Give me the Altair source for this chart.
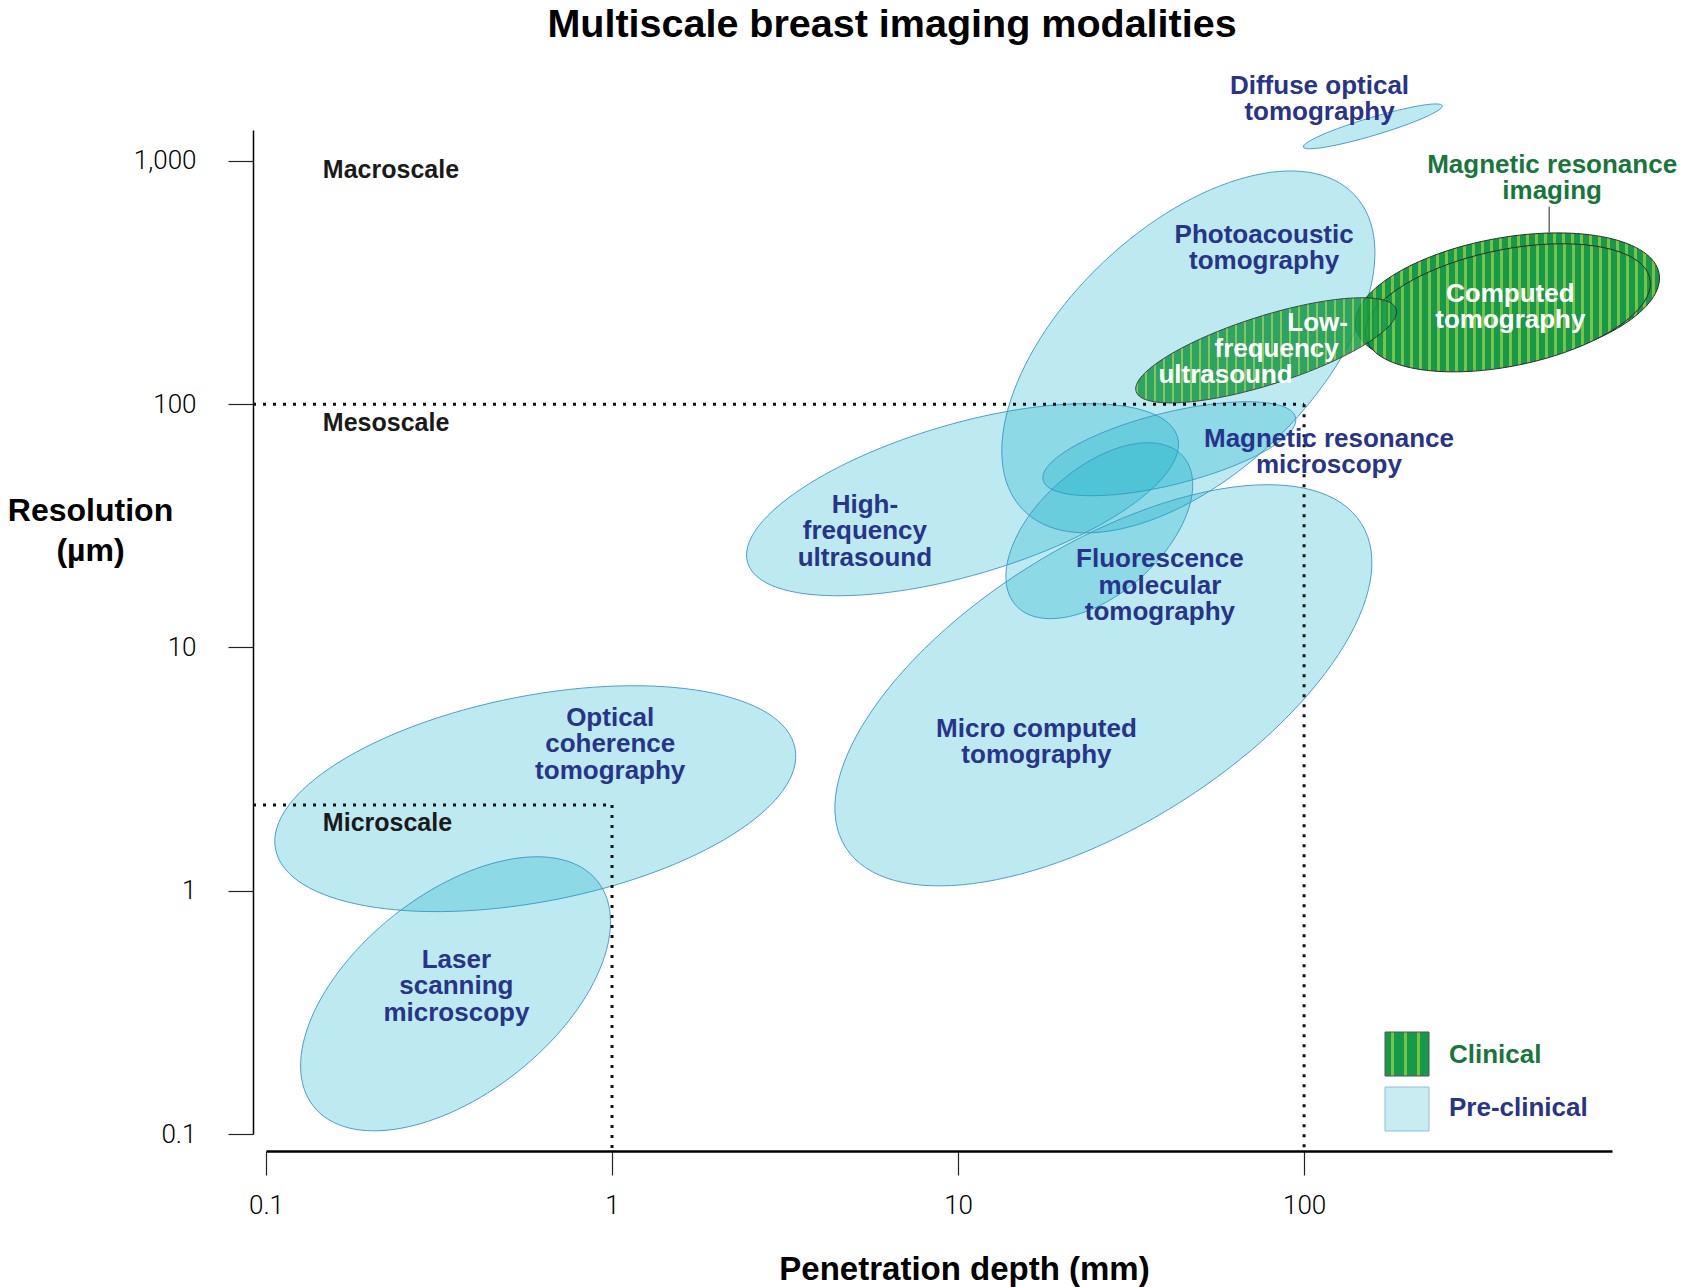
import math
import altair as alt
import pandas as pd

TITLE = "Multiscale breast imaging modalities"

# ---------------- data ----------------
modality = [
    "Optical coherence tomography", "Laser scanning microscopy", "High-frequency ultrasound",
    "Photoacoustic tomography", "Magnetic resonance microscopy", "Fluorescence molecular tomography",
    "Micro computed tomography", "Diffuse optical tomography",
    "Magnetic resonance imaging", "Computed tomography", "Low-frequency ultrasound",
]
category = ["Pre-clinical"] * 8 + ["Clinical"] * 3
depth_mm = [0.60, 0.353, 10.3, 46.3, 40.8, 25.6, 26.3, 158, 387, 388, 77.7]        # ellipse centre
resolution_um = [2.39, 0.377, 40.5, 164, 65.6, 30.2, 6.99, 1387, 267, 249, 166.5]  # ellipse centre

label_text = [
    "Diffuse optical\ntomography",
    "Photoacoustic\ntomography",
    "Magnetic resonance\nmicroscopy",
    "High-\nfrequency\nultrasound",
    "Fluorescence\nmolecular\ntomography",
    "Micro computed\ntomography",
    "Optical\ncoherence\ntomography",
    "Laser\nscanning\nmicroscopy",
    "Computed\ntomography",
    "Low-", "frequency", "ultrasound",
    "Magnetic resonance\nimaging",
]
# position of each label's first line
label_depth = [110.8, 76.65, 118, 5.38, 38.3, 16.85, 0.988, 0.355, 394.5, 109.4, 83.3, 59.3, 521]
label_res = [2036, 497, 72.1, 38.6, 23.1, 4.63, 5.14, 0.52, 284, 216, 169, 132, 964]
label_role = ["pre"] * 8 + ["inside"] * 4 + ["clinical"]

scale_names = ["Macroscale", "Mesoscale", "Microscale"]
scale_res = [919, 83.9, 1.90]
scale_depth = [0.146, 0.146, 0.146]

boundary_depth = [1, 100]      # micro-, meso-scale limits (mm)
boundary_res = [2.25, 100]     # micro-, meso-scale limits (um)

leader_depth = [511]
leader_res = [506, 648]

x_ticks = [0.1, 1, 10, 100]
y_ticks = [0.1, 1, 10, 100, 1000]
legend_names = ["Clinical", "Pre-clinical"]

# ---------------- layout / style ----------------
W, H = 1346, 1004
X_DOMAIN = [0.1, 776]
Y_DOMAIN = [0.1, 1340]
PX_DEC_X = W / math.log10(X_DOMAIN[1] / X_DOMAIN[0])
PX_DEC_Y = H / math.log10(Y_DOMAIN[1] / Y_DOMAIN[0])
Y_AXIS_OFFSET = 13
X_AXIS_OFFSET = 17

NAVY = "#28338a"
GREEN_TXT = "#17763b"
DARK_G = "#15994a"
LIGHT_G = "#7cc242"
FONT = "Liberation Sans"

# ellipse shape: semi-major px, semi-minor px, tilt (deg, counter-clockwise)
ELLIPSE_SHAPE = {
    "Optical coherence tomography": (264.6, 102.9, 11.0),
    "Laser scanning microscopy": (181.2, 99.7, 38.4),
    "High-frequency ultrasound": (223.9, 75.7, 16.3),
    "Photoacoustic tomography": (228.6, 123.6, 43.4),
    "Magnetic resonance microscopy": (130.0, 36.0, 14.0),
    "Fluorescence molecular tomography": (112.0, 62.6, 41.7),
    "Micro computed tomography": (304.5, 139.9, 32.1),
    "Diffuse optical tomography": (72.5, 9.0, 16.6),
    "Magnetic resonance imaging": (154.0, 62.9, 10.05),
    "Computed tomography": (145.0, 58.2, 11.6),
    "Low-frequency ultrasound": (136.4, 34.2, 17.6),
}


def ellipse_path(a, b, tilt):
    t = math.radians(tilt)
    c, s = math.cos(t), math.sin(t)
    pts = [(a * c, -a * s), (-b * s, -b * c), (-a * c, a * s), (b * s, b * c)]
    d = "M %.2f %.2f" % pts[0]
    for i in range(1, 5):
        p = pts[i % 4]
        d += " A %.2f %.2f %.2f 0 0 %.2f %.2f" % (a, b, -tilt, p[0], p[1])
    return d + " Z"


def bbox_width(a, b, tilt):
    t = math.radians(tilt)
    return 2 * math.sqrt((a * math.cos(t)) ** 2 + (b * math.sin(t)) ** 2)


def stripes(period_frac, light_frac, phase=0.0):
    stops = [alt.GradientStop(color=DARK_G, offset=0)]
    k = 0
    while True:
        s0 = phase + k * period_frac
        if s0 >= 1:
            break
        s1 = min(s0 + light_frac, 1)
        stops += [alt.GradientStop(color=DARK_G, offset=s0), alt.GradientStop(color=LIGHT_G, offset=s0),
                  alt.GradientStop(color=LIGHT_G, offset=s1), alt.GradientStop(color=DARK_G, offset=s1)]
        k += 1
    stops.append(alt.GradientStop(color=DARK_G, offset=1))
    return alt.LinearGradient(gradient="linear", stops=stops, x1=0, x2=1, y1=0, y2=0)


ell = pd.DataFrame({"modality": modality, "category": category, "depth": depth_mm, "res": resolution_um})
ell["path"] = [ellipse_path(*ELLIPSE_SHAPE[m]) for m in modality]

labels = pd.DataFrame({"text": label_text, "depth": label_depth, "res": label_res, "role": label_role})
labels["color"] = labels["role"].map({"pre": NAVY, "inside": "white", "clinical": GREEN_TXT})

scales_df = pd.DataFrame({"text": scale_names, "depth": scale_depth, "res": scale_res})

x_axis_start = X_DOMAIN[0] * 10 ** (-Y_AXIS_OFFSET / PX_DEC_X)
y_axis_low = Y_DOMAIN[0] * 10 ** (-X_AXIS_OFFSET / PX_DEC_Y)
rules = pd.DataFrame({
    "depth": [x_axis_start, boundary_depth[0], x_axis_start, boundary_depth[1]],
    "depth2": [boundary_depth[0], boundary_depth[0], boundary_depth[1], boundary_depth[1]],
    "res": [boundary_res[0], boundary_res[0], boundary_res[1], boundary_res[1]],
    "res2": [boundary_res[0], y_axis_low, boundary_res[1], y_axis_low],
})
leader = pd.DataFrame({"depth": leader_depth, "res": [leader_res[0]], "res2": [leader_res[1]]})

xscale = alt.Scale(type="log", domain=X_DOMAIN, nice=False)
yscale = alt.Scale(type="log", domain=Y_DOMAIN, nice=False)

xaxis = alt.Axis(
    values=x_ticks, labelExpr="format(datum.value, ',')", grid=False,
    domainColor="black", domainWidth=2.5, tickColor="#222", tickWidth=1.2, tickSize=24,
    offset=X_AXIS_OFFSET, labelFont="Roboto", labelFontWeight=300, labelFontSize=26,
    labelColor="black", labelPadding=17, labelFlush=False, labelOverlap=False,
    title="Penetration depth (mm)", titleFont=FONT, titleFontSize=33, titleFontWeight="bold",
    titleColor="black", titleX=698, titleY=128, titleAlign="center", titleBaseline="alphabetic",
)
yaxis = alt.Axis(
    values=y_ticks, labelExpr="format(datum.value, ',')", grid=False,
    domainColor="black", domainWidth=1.5, tickColor="#222", tickWidth=1.2, tickSize=25,
    offset=Y_AXIS_OFFSET, labelFont="Roboto", labelFontWeight=300, labelFontSize=26,
    labelColor="black", labelPadding=32, labelFlush=False, labelOverlap=False,
    title=["Resolution", "(µm)"], titleFont=FONT, titleFontSize=32, titleFontWeight="bold",
    titleColor="black", titleAngle=0, titleX=-163, titleY=390, titleAlign="center",
    titleBaseline="alphabetic", titleLineHeight=40,
)

X = alt.X("depth:Q", scale=xscale, axis=xaxis)
Y = alt.Y("res:Q", scale=yscale, axis=yaxis)
SHAPE = alt.Shape("path:N", scale=None)

pre = alt.Chart(ell).transform_filter(alt.datum.category == "Pre-clinical").mark_point(
    filled=True, fill="#0aafc8", fillOpacity=0.27, stroke="#3d96c4", strokeWidth=1,
    strokeOpacity=0.9, opacity=1, size=4,
).encode(x=X, y=Y, shape=SHAPE)

clinical_layers = []
for name, op in [("Magnetic resonance imaging", 1.0), ("Computed tomography", 1.0), ("Low-frequency ultrasound", 0.85)]:
    wpx = bbox_width(*ELLIPSE_SHAPE[name])
    grad = stripes(9.0 / wpx, 2.6 / wpx)
    clinical_layers.append(
        alt.Chart(ell).transform_filter(alt.datum.modality == name).mark_point(
            filled=True, fill=grad, stroke="#2b2b2b", strokeWidth=1, opacity=op, size=4,
        ).encode(x=X, y=Y, shape=SHAPE)
    )

dotted = alt.Chart(rules).mark_rule(color="#111", strokeWidth=3, strokeDash=[3, 7]).encode(
    x=X, x2="depth2:Q", y=Y, y2="res2:Q")

leader_line = alt.Chart(leader).mark_rule(color="#6d6d6d", strokeWidth=1.5).encode(
    x=X, y=Y, y2="res2:Q")

label_layer = alt.Chart(labels).mark_text(
    font=FONT, fontWeight="bold", fontSize=26, align="center", baseline="middle",
    lineBreak="\n", lineHeight=26.5,
).encode(x=X, y=Y, text="text:N", color=alt.Color("color:N", scale=None))

scale_layer = alt.Chart(scales_df).mark_text(
    font=FONT, fontWeight="bold", fontSize=25, align="left", baseline="middle", color="#1a1a1a",
).encode(x=X, y=Y, text="text:N")

one = alt.Data(values=[{}])
legend_clin_box = alt.Chart(one).mark_rect(
    fill=stripes(0.30, 0.065, 0.13), stroke="#555", strokeWidth=1,
).encode(x=alt.value(1119), x2=alt.value(1163), y=alt.value(902), y2=alt.value(946))
legend_pre_box = alt.Chart(one).mark_rect(
    fill="#c9ebf2", stroke="#90bedb", strokeWidth=1,
).encode(x=alt.value(1119), x2=alt.value(1163), y=alt.value(957), y2=alt.value(1001))
legend_clin_txt = alt.Chart(one).mark_text(
    text=legend_names[0], font=FONT, fontWeight="bold", fontSize=26, align="left",
    baseline="middle", color=GREEN_TXT,
).encode(x=alt.value(1183), y=alt.value(925))
legend_pre_txt = alt.Chart(one).mark_text(
    text=legend_names[1], font=FONT, fontWeight="bold", fontSize=26, align="left",
    baseline="middle", color=NAVY,
).encode(x=alt.value(1183), y=alt.value(978))

title = alt.Chart(one).mark_text(
    text=TITLE, font=FONT, fontWeight="bold", fontSize=39.5, align="center",
    baseline="alphabetic", color="black",
).encode(x=alt.value(626), y=alt.value(-93))

chart = alt.layer(
    pre, *clinical_layers, dotted, leader_line, label_layer, scale_layer,
    legend_clin_box, legend_pre_box, legend_clin_txt, legend_pre_txt, title,
).properties(
    width=W, height=H,
    autosize=alt.AutoSizeParams(type="none"),
    padding={"left": 258, "top": 122, "right": 67, "bottom": 153},
).configure_view(stroke=None)

chart.save("out.html", embed_options={"renderer": "svg", "actions": False})
